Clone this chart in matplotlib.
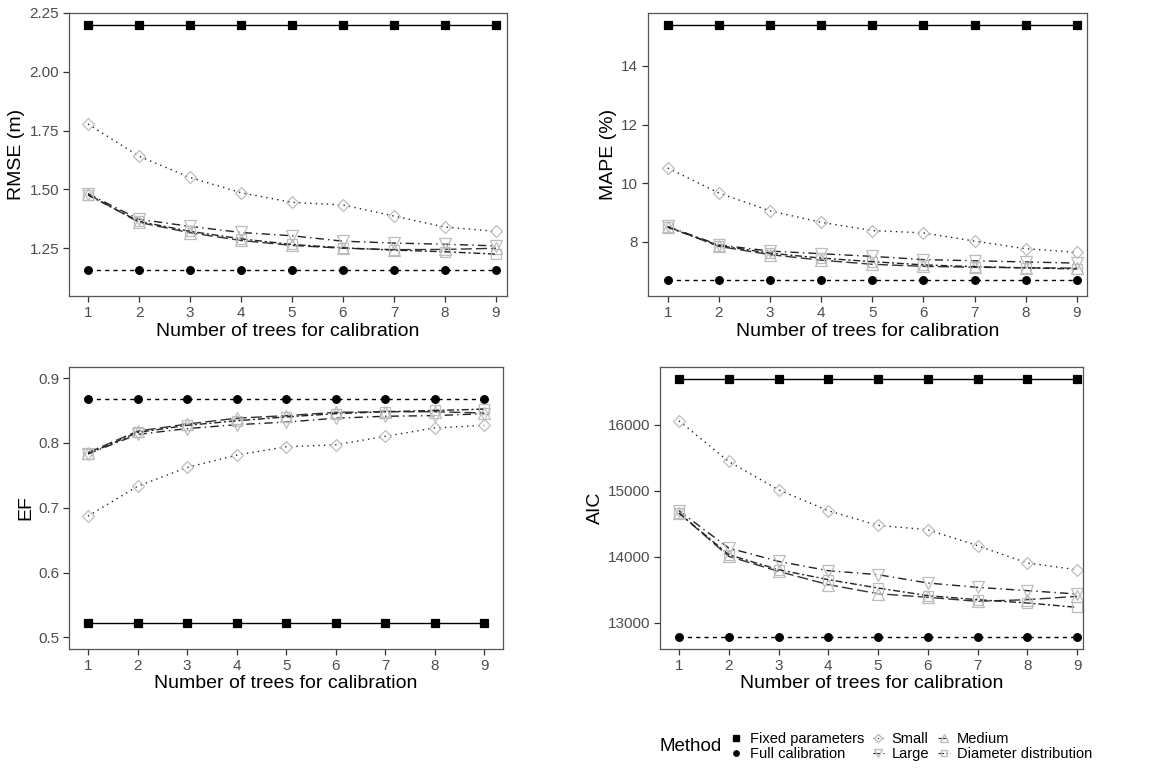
import matplotlib
matplotlib.use("Agg")
import matplotlib.pyplot as plt
from matplotlib.lines import Line2D
from matplotlib.offsetbox import HPacker

plt.rcParams['font.family'] = ['Liberation Sans', 'DejaVu Sans']

# data
n_trees = [1, 2, 3, 4, 5, 6, 7, 8, 9]
methods = ["Fixed parameters", "Full calibration", "Small", "Large", "Medium", "Diameter distribution"]

rmse_fixed = [2.198] * 9
rmse_full = [1.156] * 9
rmse_small = [1.778, 1.641, 1.551, 1.486, 1.445, 1.434, 1.387, 1.340, 1.322]
rmse_large = [1.482, 1.373, 1.343, 1.317, 1.303, 1.280, 1.272, 1.267, 1.260]
rmse_medium = [1.480, 1.360, 1.316, 1.283, 1.262, 1.250, 1.244, 1.245, 1.250]
rmse_diam = [1.476, 1.364, 1.322, 1.290, 1.266, 1.252, 1.242, 1.235, 1.225]

mape_fixed = [15.40] * 9
mape_full = [6.69] * 9
mape_small = [10.52, 9.67, 9.06, 8.67, 8.39, 8.31, 8.03, 7.77, 7.65]
mape_large = [8.53, 7.90, 7.69, 7.60, 7.51, 7.40, 7.36, 7.32, 7.28]
mape_medium = [8.52, 7.85, 7.57, 7.38, 7.24, 7.17, 7.14, 7.12, 7.11]
mape_diam = [8.50, 7.88, 7.62, 7.45, 7.33, 7.22, 7.16, 7.12, 7.08]

ef_fixed = [0.522] * 9
ef_full = [0.867] * 9
ef_small = [0.687, 0.733, 0.762, 0.781, 0.794, 0.797, 0.810, 0.823, 0.827]
ef_large = [0.783, 0.813, 0.822, 0.828, 0.832, 0.838, 0.841, 0.842, 0.845]
ef_medium = [0.785, 0.818, 0.829, 0.838, 0.842, 0.847, 0.848, 0.848, 0.846]
ef_diam = [0.783, 0.816, 0.827, 0.834, 0.840, 0.845, 0.848, 0.850, 0.852]

aic_fixed = [16697] * 9
aic_full = [12783] * 9
aic_small = [16061, 15444, 15015, 14697, 14475, 14409, 14167, 13904, 13803]
aic_large = [14697, 14131, 13929, 13788, 13727, 13601, 13535, 13485, 13434]
aic_medium = [14662, 14005, 13778, 13576, 13439, 13384, 13323, 13348, 13399]
aic_diam = [14662, 14030, 13803, 13652, 13525, 13409, 13348, 13298, 13232]

panels = [
    ("RMSE (m)", [rmse_fixed, rmse_full, rmse_small, rmse_large, rmse_medium, rmse_diam],
     [1.25, 1.50, 1.75, 2.00, 2.25], ["1.25", "1.50", "1.75", "2.00", "2.25"]),
    ("MAPE (%)", [mape_fixed, mape_full, mape_small, mape_large, mape_medium, mape_diam],
     [8, 10, 12, 14], ["8", "10", "12", "14"]),
    ("EF", [ef_fixed, ef_full, ef_small, ef_large, ef_medium, ef_diam],
     [0.5, 0.6, 0.7, 0.8, 0.9], ["0.5", "0.6", "0.7", "0.8", "0.9"]),
    ("AIC", [aic_fixed, aic_full, aic_small, aic_large, aic_medium, aic_diam],
     [13000, 14000, 15000, 16000], ["13000", "14000", "15000", "16000"]),
]

# panel boxes in pixels (left, right, top, bottom) and axis limits
W, H = 1168, 769
boxes = [(69, 507, 13, 296), (648, 1087, 13, 296), (69, 503, 367, 649), (660, 1083, 367, 649)]
xlims = [(0.627, 9.216), (0.615, 9.2), (0.616, 9.38), (0.618, 9.12)]
ylims = [(1.047, 2.25), (6.16, 15.8), (0.482, 0.917), (12600, 16877)]

# style per method
grey_pt = "#bdbdbd"
styles = [
    dict(marker="s", ls="-", mfc="black", mec="black", ms=5.5, color="black"),
    dict(marker="o", ls=(0, (3, 3)), mfc="black", mec="black", ms=5.5, color="black"),
    dict(marker="D", ls=(0, (1, 3)), mfc="none", mec=grey_pt, ms=6.5, color="#222222"),
    dict(marker="v", ls=(0, (6, 3, 1, 3)), mfc="none", mec=grey_pt, ms=8, color="#222222"),
    dict(marker="^", ls=(0, (8, 3)), mfc="none", mec=grey_pt, ms=8, color="#333333"),
    dict(marker="s", ls=(0, (5, 2, 1.5, 2)), mfc="none", mec=grey_pt, ms=7, color="#222222"),
]

fig = plt.figure(figsize=(W / 100, H / 100), dpi=100)
tick_grey = "#4d4d4d"

for i, (ylab, series, yt, ytl) in enumerate(panels):
    l, r, t, b = boxes[i]
    ax = fig.add_axes([l / W, 1 - b / H, (r - l) / W, (b - t) / H])
    for vals, st in zip(series, styles):
        ax.plot(n_trees, vals, color=st["color"], ls=st["ls"], lw=1.0,
                marker=st["marker"], mfc=st["mfc"], mec=st["mec"], ms=st["ms"], mew=0.9)
    ax.set_xlim(*xlims[i])
    ax.set_ylim(*ylims[i])
    ax.set_xticks(n_trees)
    ax.set_yticks(yt)
    ax.set_yticklabels(ytl)
    ax.tick_params(colors="#333333", labelsize=11, length=4, width=0.9,
                   labelcolor=tick_grey, pad=3)
    for sp in ax.spines.values():
        sp.set_color("#555555")
        sp.set_linewidth(0.9)
    ax.set_xlabel("Number of trees for calibration", fontsize=14, labelpad=2)
    ax.set_ylabel(ylab, fontsize=14, labelpad=3)

# legend at the bottom right, title on the left of the entries
handles = []
for name, st in zip(methods, styles):
    handles.append(Line2D([], [], color=st["color"] if st["mfc"] == "none" else "none",
                          ls=st["ls"], lw=0.8, marker=st["marker"], mfc=st["mfc"],
                          mec=st["mec"], ms=st["ms"] * 0.7, label=name))
leg = fig.legend(handles=handles, ncol=3, loc="center", bbox_to_anchor=(0.75, 0.029),
                 frameon=False, fontsize=10.5, handlelength=0.8, handletextpad=0.5,
                 columnspacing=0.6, labelspacing=0.1, borderpad=0,
                 title="Method")
leg.get_title().set_fontsize(13.5)
title_box = leg._legend_title_box
leg._legend_box._children = [HPacker(pad=0, sep=6, align="center",
                                     children=[title_box, leg._legend_handle_box])]

fig.savefig("out.png", dpi=100)
